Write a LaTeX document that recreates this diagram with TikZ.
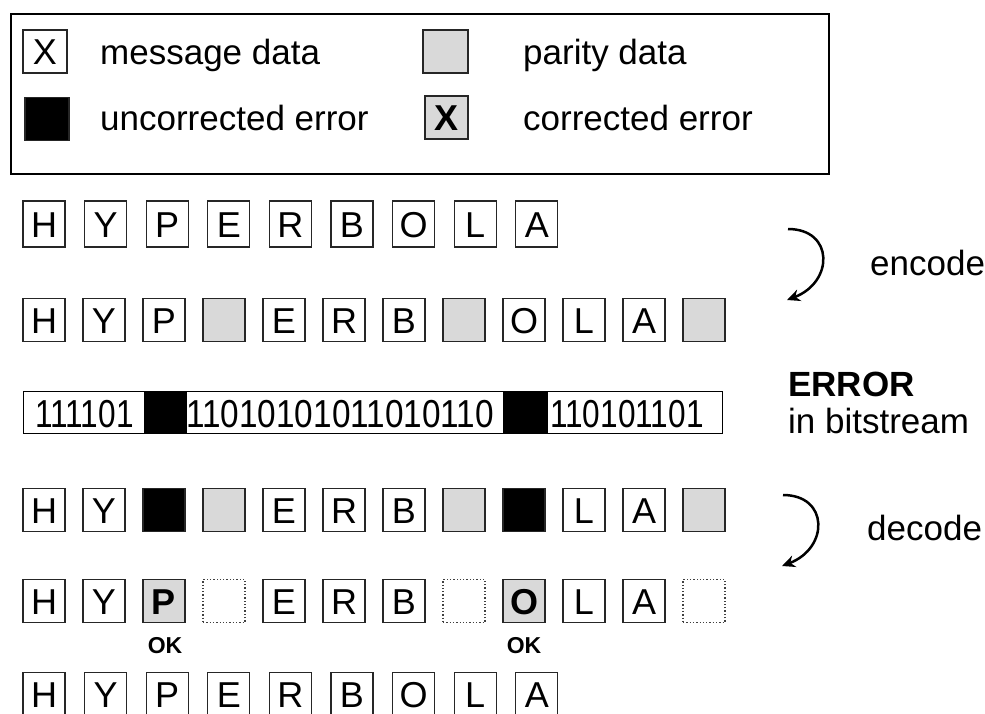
\documentclass[tikz,border=0pt]{standalone}
\usepackage{fontspec}
\setmainfont{Liberation Sans}
\usetikzlibrary{arrows.meta}
\definecolor{parity}{HTML}{D9D9D9}
\newcommand{\bitstr}[2][0.81]{\scalebox{#1}[1]{\fontsize{39}{39}\selectfont #2}}
\begin{document}
\begin{tikzpicture}[x=1pt,y=-1pt,
  box/.style={draw=black!85, line width=1.3pt, fill=white, minimum width=42pt, minimum height=43pt, inner sep=0pt, font=\fontsize{36}{36}\selectfont, text height=26pt, text depth=0pt},
  parbox/.style={box, fill=parity},
  errbox/.style={box, fill=black},
  dotbox/.style={box, dotted, draw=black!75},
  fixbox/.style={box, fill=parity, font=\bfseries\fontsize{36}{36}\selectfont},
  lbl/.style={anchor=base west, inner sep=0pt, font=\fontsize{35}{35}\selectfont},
  oklbl/.style={anchor=base, inner sep=0pt, font=\bfseries\fontsize{23}{23}\selectfont},
  bits/.style={anchor=west, inner sep=0pt, text height=28pt, text depth=0pt},
  curl/.style={line width=2.5pt, -{Stealth[length=13pt,width=12pt]}}
]
\useasboundingbox (0,0) rectangle (985,713);

% legend
\node[draw, line width=1.5pt, minimum width=818pt, minimum height=160pt, anchor=north west, inner sep=0pt] (legend) at (10,13) {};
\node[box, minimum width=44pt] (lx) at (45,51.5) {X};
\node[errbox, minimum width=44pt] (le) at (47,119) {};
\node[parbox, minimum width=45pt] (lp) at (445.5,51.5) {};
\node[fixbox, minimum width=43pt] (lc) at (446.5,117.5) {X};
\node[lbl] (tmsg) at (100,64) {message data};
\node[lbl] (tunc) at (100,130) {uncorrected error};
\node[lbl] (tpar) at (523,64) {parity data};
\node[lbl] (tcor) at (523,130) {corrected error};

% row 1: message
\foreach \l [count=\i from 0] in {H,Y,P,E,R,B,O,L,A}
  \node[box, minimum height=46pt] (a\i) at ({44+61.6*\i},224) {\l};

% row 2: encoded
\foreach \s/\l [count=\i from 0] in {box/H,box/Y,box/P,parbox/,box/E,box/R,box/B,parbox/,box/O,box/L,box/A,parbox/}
  \node[\s] (b\i) at ({44+60*\i},320) {\l};

% row 3: bitstream
\node[draw, line width=1.3pt, minimum width=699pt, minimum height=42pt, anchor=north west, inner sep=0pt] (bits) at (23,391) {};
\node[bits] (s1) at (35,413) {\bitstr{111101}};
\node[bits] (s2) at (186,413) {\bitstr[0.855]{11010101011010110}};
\node[bits] (s3) at (550,413) {\bitstr{110101101}};
\node[fill=black, minimum width=43pt, minimum height=42pt, inner sep=0pt] (e1) at (165.5,412) {};
\node[fill=black, minimum width=45pt, minimum height=42pt, inner sep=0pt] (e2) at (525.5,412) {};
\node[lbl, font=\bfseries\fontsize{35}{35}\selectfont] (terr) at (788,396) {ERROR};
\node[lbl] (tbit) at (788,433) {in bitstream};

% row 4: received
\foreach \s/\l [count=\i from 0] in {box/H,box/Y,errbox/,parbox/,box/E,box/R,box/B,parbox/,errbox/,box/L,box/A,parbox/}
  \node[\s] (c\i) at ({44+60*\i},510) {\l};

% row 5: decoded
\foreach \s/\l [count=\i from 0] in {box/H,box/Y,fixbox/P,dotbox/,box/E,box/R,box/B,dotbox/,fixbox/O,box/L,box/A,dotbox/}
  \node[\s] (d\i) at ({44+60*\i},601) {\l};
\node[oklbl] (ok1) at (165,653) {OK};
\node[oklbl] (ok2) at (524,653) {OK};

% row 6: message
\foreach \l [count=\i from 0] in {H,Y,P,E,R,B,O,L,A}
  \node[box] (f\i) at ({44+61.6*\i},694) {\l};

% encode / decode
\coordinate (encs) at (788,229);
\draw[curl] (encs) .. controls (834,229) and (834,282) .. (787,300);
\node[lbl] (tenc) at (870,275) {encode};
\coordinate (decs) at (783,495);
\draw[curl] (decs) .. controls (829,495) and (829,548) .. (782,566);
\node[lbl] (tdec) at (867,540) {decode};
\end{tikzpicture}
\end{document}
